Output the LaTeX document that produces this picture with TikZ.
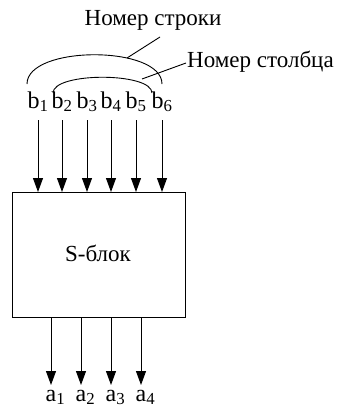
\documentclass[tikz,border=0pt]{standalone}
\usepackage{fontspec}
\setmainfont{Liberation Serif}
\usetikzlibrary{arrows.meta}
\begin{document}
\begin{tikzpicture}[x=1pt,y=-1pt,
  lbl/.style={inner sep=0pt,font=\fontsize{24}{26}\selectfont},
  txt/.style={inner sep=0pt,font=\fontsize{23}{25}\selectfont},
  sig/.style={line width=0.9pt,-{Triangle[length=14pt,width=10pt]}},
  thin/.style={line width=0.9pt}]
\useasboundingbox (0,0) rectangle (346,412);
\node[draw,line width=1.1pt,minimum width=173pt,minimum height=125pt,inner sep=0pt,anchor=north west] (box) at (12,192) {};
\node[txt] at (98,253) (sname) {S-блок};
\foreach \i/\x in {1/38,2/62,3/87,4/111,5/136,6/162}{
  \node[lbl,anchor=base] (b\i) at (\x,108) {b\textsubscript{\i}};
  \coordinate (bt\i) at (\x,120);
  \draw[sig] (bt\i) -- (bt\i |- box.north);
}
\foreach \i/\x in {1/51,2/81,3/111,4/141}{
  \node[lbl,anchor=base] (a\i) at (\x,401) {a\rlap{\textsubscript{\i}}};
  \coordinate (at\i) at (\x,385);
  \draw[sig] (at\i |- box.south) -- (at\i);
}
\node[txt] (row) at (153,20) {Номер строки};
\node[txt,anchor=west] (col) at (187,62) {Номер столбца};
\coordinate (o1) at (27,84);
\coordinate (o2) at (162,84);
\coordinate (i1) at (53,93);
\coordinate (i2) at (152,93);
\draw[thin] (o1) .. controls (27,45) and (162,45) .. (o2);
\draw[thin] (i1) .. controls (53,72) and (152,72) .. (i2);
\coordinate (ro) at (127,58);
\coordinate (re) at (160,37);
\coordinate (co) at (142,79);
\coordinate (ce) at (186,63);
\draw[thin] (ro) -- (re);
\draw[thin] (co) -- (ce);
\end{tikzpicture}
\end{document}
